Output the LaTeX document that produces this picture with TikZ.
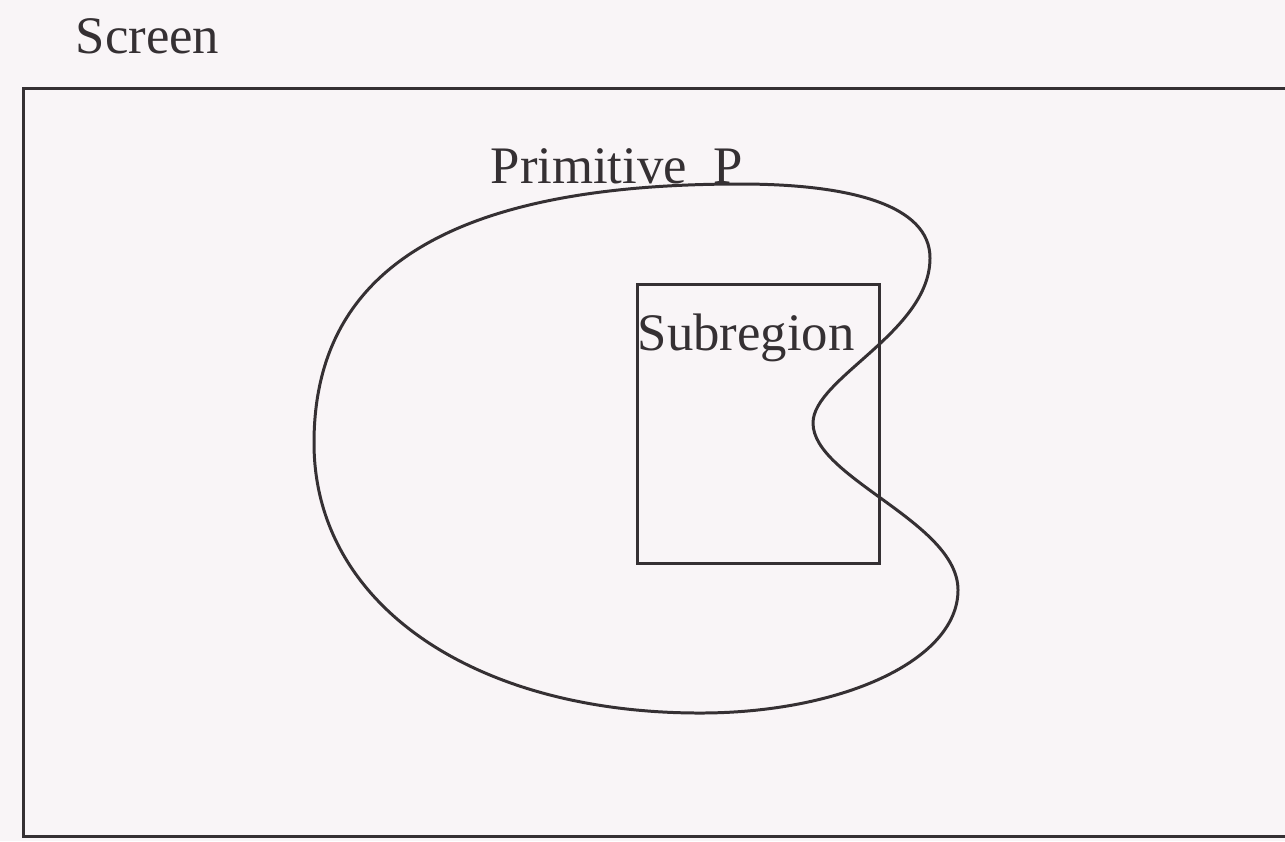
\documentclass[tikz,border=0pt]{standalone}
\usepackage{fontspec}
\setmainfont{Liberation Serif}
\definecolor{bgc}{HTML}{F9F5F7}
\definecolor{ink}{HTML}{353033}
\begin{document}
\begin{tikzpicture}[x=0.01cm,y=-0.01cm,
  lbl/.style={anchor=base west,inner sep=0pt,text=ink,font=\fontsize{15}{18}\selectfont},
  lineink/.style={draw=ink,line width=0.85pt},
  boxshape/.style={lineink,rectangle,inner sep=0pt,minimum width=242*0.01cm,minimum height=279*0.01cm}]
\clip (0,0) rectangle (1285,841);
\fill[bgc] (0,0) rectangle (1285,841);
% screen frame
\node[lineink,rectangle,inner sep=0pt,anchor=north west,minimum width=1290*0.01cm,minimum height=748*0.01cm] (screen) at (22,87) {};
\node[lbl] (screenlbl) at (75,53) {Screen};
% primitive P outline
\coordinate (ptop) at (740,184);
\coordinate (pur) at (930,258);
\coordinate (pin) at (813,423);
\coordinate (plr) at (958,590);
\coordinate (pbot) at (700,713);
\coordinate (pleft) at (314,443);
\draw[lineink] (ptop)
  .. controls (850,184) and (930,205) .. (pur)
  .. controls (930,332) and (813,378) .. (pin)
  .. controls (813,478) and (958,522) .. (plr)
  .. controls (958,660) and (842,713) .. (pbot)
  .. controls (475,713) and (314,605) .. (pleft)
  .. controls (314,275) and (442,184) .. cycle;
\node[lbl] (primlbl) at (490,183) {Primitive\ \ P};
% subregion
\node[boxshape,anchor=north west] (sub) at (636,283) {};
\node[lbl] (sublbl) at (637,350) {Subregion};
\end{tikzpicture}
\end{document}
